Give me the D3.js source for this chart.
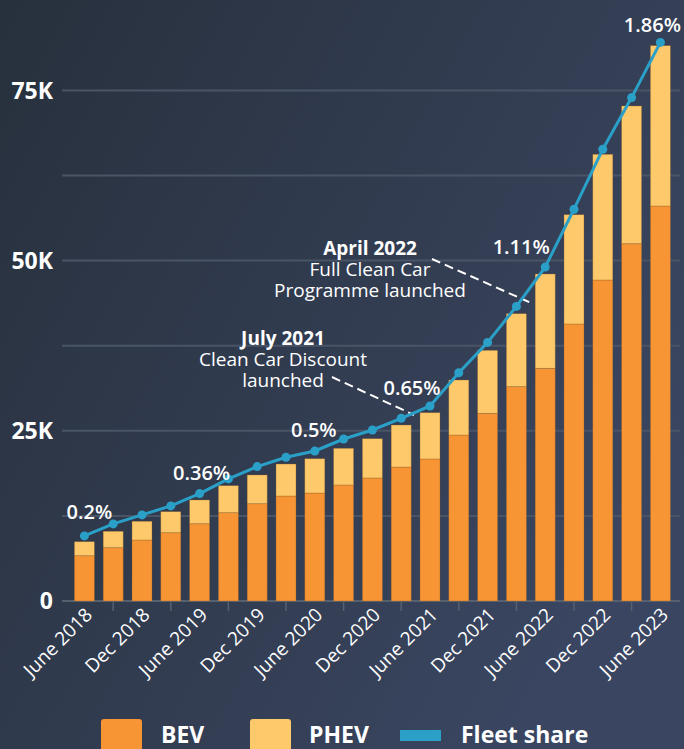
<html>
<head>
<style>
  body { margin: 0; background: #2b3442; }
  svg { display: block; font-family: "Open Sans", sans-serif; }
  .yaxis text { fill: #fff; font-size: 23px; font-weight: 700; }
  .xaxis text { fill: #fff; font-size: 19px; }
  .grid line { stroke: #4a5467; stroke-width: 2px; }
  .shareLabel { fill: #fff; font-size: 20px; font-weight: 600; text-anchor: middle; }
  .note { fill: #fff; font-size: 19px; text-anchor: middle; }
  .note .head { font-weight: 700; }
  .legend text { fill: #fff; font-size: 23px; font-weight: 700; }
</style>
</head>
<body>
<svg id="chart" width="684" height="749"></svg>
<script src="https://d3js.org/d3.v7.min.js"></script>
<script>
// quarterly registrations, June 2018 .. June 2023
const quarters = ["June 2018","Sept 2018","Dec 2018","Mar 2019","June 2019","Sept 2019","Dec 2019",
  "Mar 2020","June 2020","Sept 2020","Dec 2020","Mar 2021","June 2021","Sept 2021","Dec 2021",
  "Mar 2022","June 2022","Sept 2022","Dec 2022","Mar 2023","June 2023"]
const bev  = [6650,7830,8960,10030,11350,12970,14290,15420,15860,17040,18070,19680,20860,
  24380,27570,31480,34180,40690,47150,52480,58020]
const phev = [2060,2410,2750,3090,3490,3970,4220,4700,5040,5390,5770,6170,6800,
  8080,9250,10720,13850,16050,18460,20230,23550]
// fleet share, percent
const share = [0.217,0.257,0.287,0.317,0.358,0.407,0.448,0.479,0.500,0.540,0.570,0.609,0.650,
  0.761,0.862,0.982,1.113,1.306,1.506,1.678,1.862]
const shareLabelIdx  = [0, 4, 8, 12, 16, 20]
const shareLabelText = ["0.2%","0.36%","0.5%","0.65%","1.11%","1.86%"]
const yTicks = [0, 25000, 50000, 75000]
const gridTicks = [12500, 25000, 37500, 50000, 62500, 75000]

// label nudges (px) so the labels sit clear of the line
const labelDx = [5, 2, -1, -18, -24, -8]
const labelDy = [-17, -14, -14, -11, -13, -10]

let svg = d3.select("#chart")
let defs = svg.append("defs")
let grad = defs.append("linearGradient").attr("id", "bg")
  .attr("x1", 0).attr("y1", 0).attr("x2", 1).attr("y2", 0.6)
grad.append("stop").attr("offset", 0).attr("stop-color", "#27303c")
grad.append("stop").attr("offset", 1).attr("stop-color", "#3a4661")
svg.append("rect").attr("width", 684).attr("height", 749).attr("fill", "url(#bg)")

let plotLeft = 62, plotRight = 680, plotTop = 1, plotBottom = 601

let data = quarters.map((q, i) => ({ q: q, bev: bev[i], phev: phev[i], share: share[i] }))

let x = d3.scaleBand().domain(quarters).range([70, 70 + 28.8 * 21])
  .paddingInner(0.306).paddingOuter(0.153)
let y = d3.scaleLinear().domain([0, 88130]).range([plotBottom, plotTop])
let yShare = d3.scaleLinear().domain([0, 2]).range([plotBottom, plotTop])

// gridlines
svg.append("g").attr("class", "grid")
  .selectAll("line").data(gridTicks).enter().append("line")
  .attr("x1", plotLeft).attr("x2", plotRight)
  .attr("y1", d => y(d)).attr("y2", d => y(d))

// baseline + ticks
svg.append("line").attr("x1", plotLeft).attr("x2", plotRight)
  .attr("y1", plotBottom).attr("y2", plotBottom)
  .attr("stroke", "#56606f").attr("stroke-width", 2)
svg.append("g").selectAll("line")
  .data(quarters.filter((d, i) => i % 2 == 1)).enter().append("line")
  .attr("x1", d => x(d) + x.bandwidth() / 2).attr("x2", d => x(d) + x.bandwidth() / 2)
  .attr("y1", plotBottom).attr("y2", plotBottom + 10)
  .attr("stroke", "#56606f").attr("stroke-width", 1.5)

// y axis labels
svg.append("g").attr("class", "yaxis")
  .selectAll("text").data(yTicks).enter().append("text")
  .attr("x", 53).attr("y", d => y(d)).attr("dy", "0.36em")
  .attr("text-anchor", "end")
  .text(d => d == 0 ? "0" : (d / 1000) + "K")

// x axis labels
svg.append("g").attr("class", "xaxis")
  .selectAll("text").data(quarters.filter((d, i) => i % 2 == 0)).enter().append("text")
  .attr("text-anchor", "end")
  .attr("transform", d => "translate(" + (x(d) + x.bandwidth() / 2 + 9) + "," + 616 + ") rotate(-45)")
  .text(d => d)

// stacked bars
let stack = d3.stack().keys(["bev", "phev"])(data)
let colors = { bev: "#f79433", phev: "#fec96a" }
svg.append("g").selectAll("g").data(stack).enter().append("g")
  .attr("fill", d => colors[d.key])
  .selectAll("rect").data(d => d).enter().append("rect")
  .attr("x", d => x(d.data.q))
  .attr("width", x.bandwidth())
  .attr("y", d => y(d[1]))
  .attr("height", d => y(d[0]) - y(d[1]))
  .attr("stroke", "rgba(140,95,40,0.45)").attr("stroke-width", 0.7)

// annotations
let notes = [
  { lines: ["April 2022", "Full Clean Car", "Programme launched"], cx: 370, y0: 255 },
  { lines: ["July 2021", "Clean Car Discount", "launched"], cx: 283, y0: 345 }
]
notes.forEach(n => {
  let t = svg.append("text").attr("class", "note")
  n.lines.forEach((l, i) => {
    t.append("tspan").attr("x", n.cx).attr("y", n.y0 + i * 21)
      .attr("class", i == 0 ? "head" : null).text(l)
  })
})
// leader lines: from note to the quarter it refers to
let leaders = [
  { from: [432, 259], to: "June 2022", dy: 35 },
  { from: [332, 377], to: "June 2021", dy: 9 }
]
leaders.forEach(l => {
  let tx = x(l.to) + x.bandwidth() / 2 - 16
  let ty = yShare(share[quarters.indexOf(l.to)]) + l.dy
  svg.append("line").attr("x1", l.from[0]).attr("y1", l.from[1])
    .attr("x2", tx).attr("y2", ty)
    .attr("stroke", "#fff").attr("stroke-width", 2).attr("stroke-dasharray", "9 5")
})

// fleet share line
let line = d3.line().x(d => x(d.q) + x.bandwidth() / 2).y(d => yShare(d.share))
svg.append("path").datum(data).attr("d", line)
  .attr("fill", "none").attr("stroke", "#2aa0c8").attr("stroke-width", 3)
  .attr("stroke-linejoin", "round")
svg.append("g").selectAll("circle").data(data).enter().append("circle")
  .attr("cx", d => x(d.q) + x.bandwidth() / 2).attr("cy", d => yShare(d.share))
  .attr("r", 4.5).attr("fill", "#2aa0c8")

svg.append("g").selectAll("text").data(shareLabelIdx).enter().append("text")
  .attr("class", "shareLabel")
  .attr("x", (d, i) => x(quarters[d]) + x.bandwidth() / 2 + labelDx[i])
  .attr("y", (d, i) => yShare(share[d]) + labelDy[i])
  .text((d, i) => shareLabelText[i])

// legend
let legend = svg.append("g").attr("class", "legend")
legend.append("rect").attr("x", 101).attr("y", 719).attr("width", 41).attr("height", 41)
  .attr("rx", 3).attr("fill", colors.bev)
legend.append("text").attr("x", 161).attr("y", 743).text("BEV")
legend.append("rect").attr("x", 250).attr("y", 719).attr("width", 41).attr("height", 41)
  .attr("rx", 3).attr("fill", colors.phev)
legend.append("text").attr("x", 309).attr("y", 743).text("PHEV")
legend.append("rect").attr("x", 400).attr("y", 730).attr("width", 41).attr("height", 11)
  .attr("fill", "#2aa0c8")
legend.append("text").attr("x", 461).attr("y", 743).text("Fleet share")
</script>
</body>
</html>
